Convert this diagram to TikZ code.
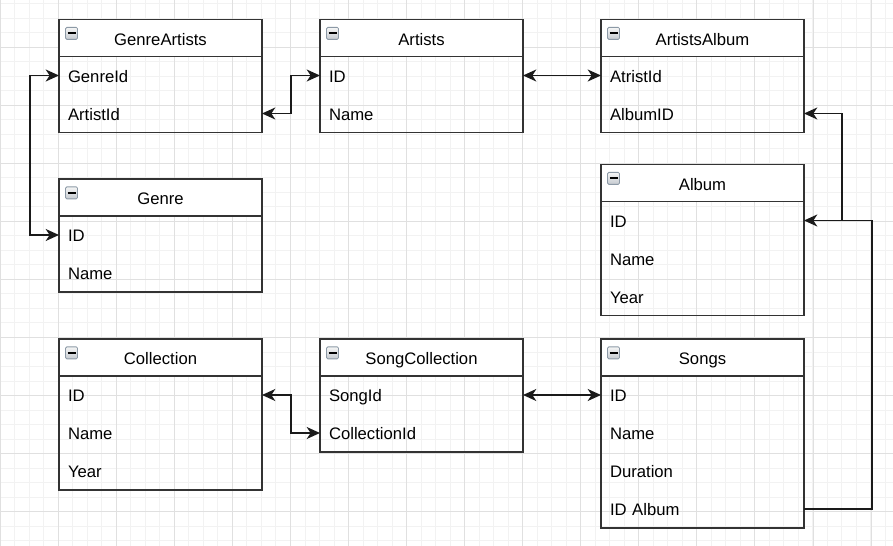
\documentclass[tikz,border=0pt]{standalone}
\usepackage{fontspec}
\setmainfont{Liberation Sans}
\usetikzlibrary{positioning, fit, arrows.meta}

\definecolor{boxline}{HTML}{333333}
\definecolor{edgeline}{HTML}{1A1A1A}
\definecolor{gridminor}{HTML}{F2F2F2}
\definecolor{gridmajor}{HTML}{E0E0E0}
\definecolor{iconline}{HTML}{8C99A6}
\definecolor{icontop}{HTML}{F6F6F6}
\definecolor{iconbottom}{HTML}{C4C9CF}

\tikzstyle{tablehead} = [
    rectangle,
    minimum width=152.25pt,
    minimum height=27.75pt,
    inner sep=0pt,
    outer sep=0pt,
    text height=11.2pt,
    text depth=0pt,
    draw=boxline,
    line width=1.1pt,
    fill=white,
    font=\fontsize{12.5pt}{15pt}\selectfont
]
\tikzstyle{tablerow} = [
    rectangle,
    minimum height=28.5pt,
    text width=138.75pt,
    inner xsep=6.75pt,
    inner ysep=0pt,
    outer sep=0pt,
    align=left,
    text height=10.2pt,
    text depth=0pt,
    font=\fontsize{12.5pt}{15pt}\selectfont
]
\tikzstyle{tableframe} = [
    rectangle,
    inner sep=0pt,
    outer sep=0pt,
    draw=boxline,
    line width=1.1pt
]
\tikzstyle{collapse} = [
    rectangle,
    rounded corners=1pt,
    minimum size=9pt,
    inner sep=0pt,
    draw=iconline,
    line width=0.6pt,
    top color=icontop,
    bottom color=iconbottom
]
\tikzstyle{link} = [
    draw=edgeline,
    line width=1.3pt,
    >={Stealth[length=10pt,width=9pt,inset=3pt]}
]
\tikzstyle{gridline} = [draw=gridminor, line width=0.6pt]
\tikzstyle{gridbold} = [draw=gridmajor, line width=0.6pt]

\newcommand{\minusbar}{\textcolor{black}{\rule{6pt}{1.4pt}}}

\begin{document}
\begin{tikzpicture}[x=0.75pt, y=-0.75pt]

\useasboundingbox (0,0) rectangle (893,546);
\fill[white] (0,0) rectangle (893,546);

\begin{scope}
\clip (0,0) rectangle (893,546);
\foreach \i in {0,...,62}
    \draw[gridline] ({0.2+\i*14.51},0) -- ++(0,546);
\foreach \j in {0,...,38}
    \draw[gridline] (0,{-10.84+\j*14.51}) -- ++(893,0);
\foreach \i in {0,...,15}
    \draw[gridbold] ({0.2+\i*58.05},0) -- ++(0,546);
\foreach \j in {0,...,9}
    \draw[gridbold] (0,{-10.84+\j*58.05}) -- ++(893,0);
\end{scope}

% top row
\node (ga) [tablehead, anchor=north west] at (59,19.5) {GenreArtists};
\node (ga-genreid) [tablerow, below=0pt of ga] {GenreId};
\node (ga-artistid) [tablerow, below=0pt of ga-genreid] {ArtistId};
\node (ga-frame) [tableframe, fit=(ga)(ga-artistid)] {};
\node (ga-icon) [collapse, below right=5.6pt and 4.6pt of ga.north west] {\minusbar};

\node (ar) [tablehead, anchor=north west] at (320,19.5) {Artists};
\node (ar-id) [tablerow, below=0pt of ar] {ID};
\node (ar-name) [tablerow, below=0pt of ar-id] {Name};
\node (ar-frame) [tableframe, fit=(ar)(ar-name)] {};
\node (ar-icon) [collapse, below right=5.6pt and 4.6pt of ar.north west] {\minusbar};

\node (aa) [tablehead, anchor=north west] at (601,19.5) {ArtistsAlbum};
\node (aa-artistid) [tablerow, below=0pt of aa] {AtristId};
\node (aa-albumid) [tablerow, below=0pt of aa-artistid] {AlbumID};
\node (aa-frame) [tableframe, fit=(aa)(aa-albumid)] {};
\node (aa-icon) [collapse, below right=5.6pt and 4.6pt of aa.north west] {\minusbar};

% middle
\node (ge) [tablehead, anchor=north west] at (59,179) {Genre};
\node (ge-id) [tablerow, below=0pt of ge] {ID};
\node (ge-name) [tablerow, below=0pt of ge-id] {Name};
\node (ge-frame) [tableframe, fit=(ge)(ge-name)] {};
\node (ge-icon) [collapse, below right=5.6pt and 4.6pt of ge.north west] {\minusbar};

\node (al) [tablehead, anchor=north west] at (601,164.5) {Album};
\node (al-id) [tablerow, below=0pt of al] {ID};
\node (al-name) [tablerow, below=0pt of al-id] {Name};
\node (al-year) [tablerow, below=0pt of al-name] {Year};
\node (al-frame) [tableframe, fit=(al)(al-year)] {};
\node (al-icon) [collapse, below right=5.6pt and 4.6pt of al.north west] {\minusbar};

% bottom row
\node (co) [tablehead, anchor=north west] at (59,339) {Collection};
\node (co-id) [tablerow, below=0pt of co] {ID};
\node (co-name) [tablerow, below=0pt of co-id] {Name};
\node (co-year) [tablerow, below=0pt of co-name] {Year};
\node (co-frame) [tableframe, fit=(co)(co-year)] {};
\node (co-icon) [collapse, below right=5.6pt and 4.6pt of co.north west] {\minusbar};

\node (sc) [tablehead, anchor=north west] at (320,339) {SongCollection};
\node (sc-songid) [tablerow, below=0pt of sc] {SongId};
\node (sc-collectionid) [tablerow, below=0pt of sc-songid] {CollectionId};
\node (sc-frame) [tableframe, fit=(sc)(sc-collectionid)] {};
\node (sc-icon) [collapse, below right=5.6pt and 4.6pt of sc.north west] {\minusbar};

\node (so) [tablehead, anchor=north west] at (601,339) {Songs};
\node (so-id) [tablerow, below=0pt of so] {ID};
\node (so-name) [tablerow, below=0pt of so-id] {Name};
\node (so-duration) [tablerow, below=0pt of so-name] {Duration};
\node (so-idalbum) [tablerow, below=0pt of so-duration] {ID Album};
\node (so-frame) [tableframe, fit=(so)(so-idalbum)] {};
\node (so-icon) [collapse, below right=5.6pt and 4.6pt of so.north west] {\minusbar};

% links
\draw [link, <->] (ga-genreid.west) -- ++(-29,0) |- (ge-id.west);
\draw [link, <->] (ga-artistid.east) -- ++(29,0) |- (ar-id.west);
\draw [link, <->] (ar-id.east) -- (aa-artistid.west);
\draw [link, <->] (co-id.east) -- ++(29,0) |- (sc-collectionid.west);
\draw [link, <->] (sc-songid.east) -- (so-id.west);
\draw [link, ->] (so-idalbum.east) -- ++(68,0) |- (al-id.east);
\path (al-id.east) ++(38,0) coordinate (join);
\draw [link, ->] (join) |- (aa-albumid.east);

\end{tikzpicture}
\end{document}
